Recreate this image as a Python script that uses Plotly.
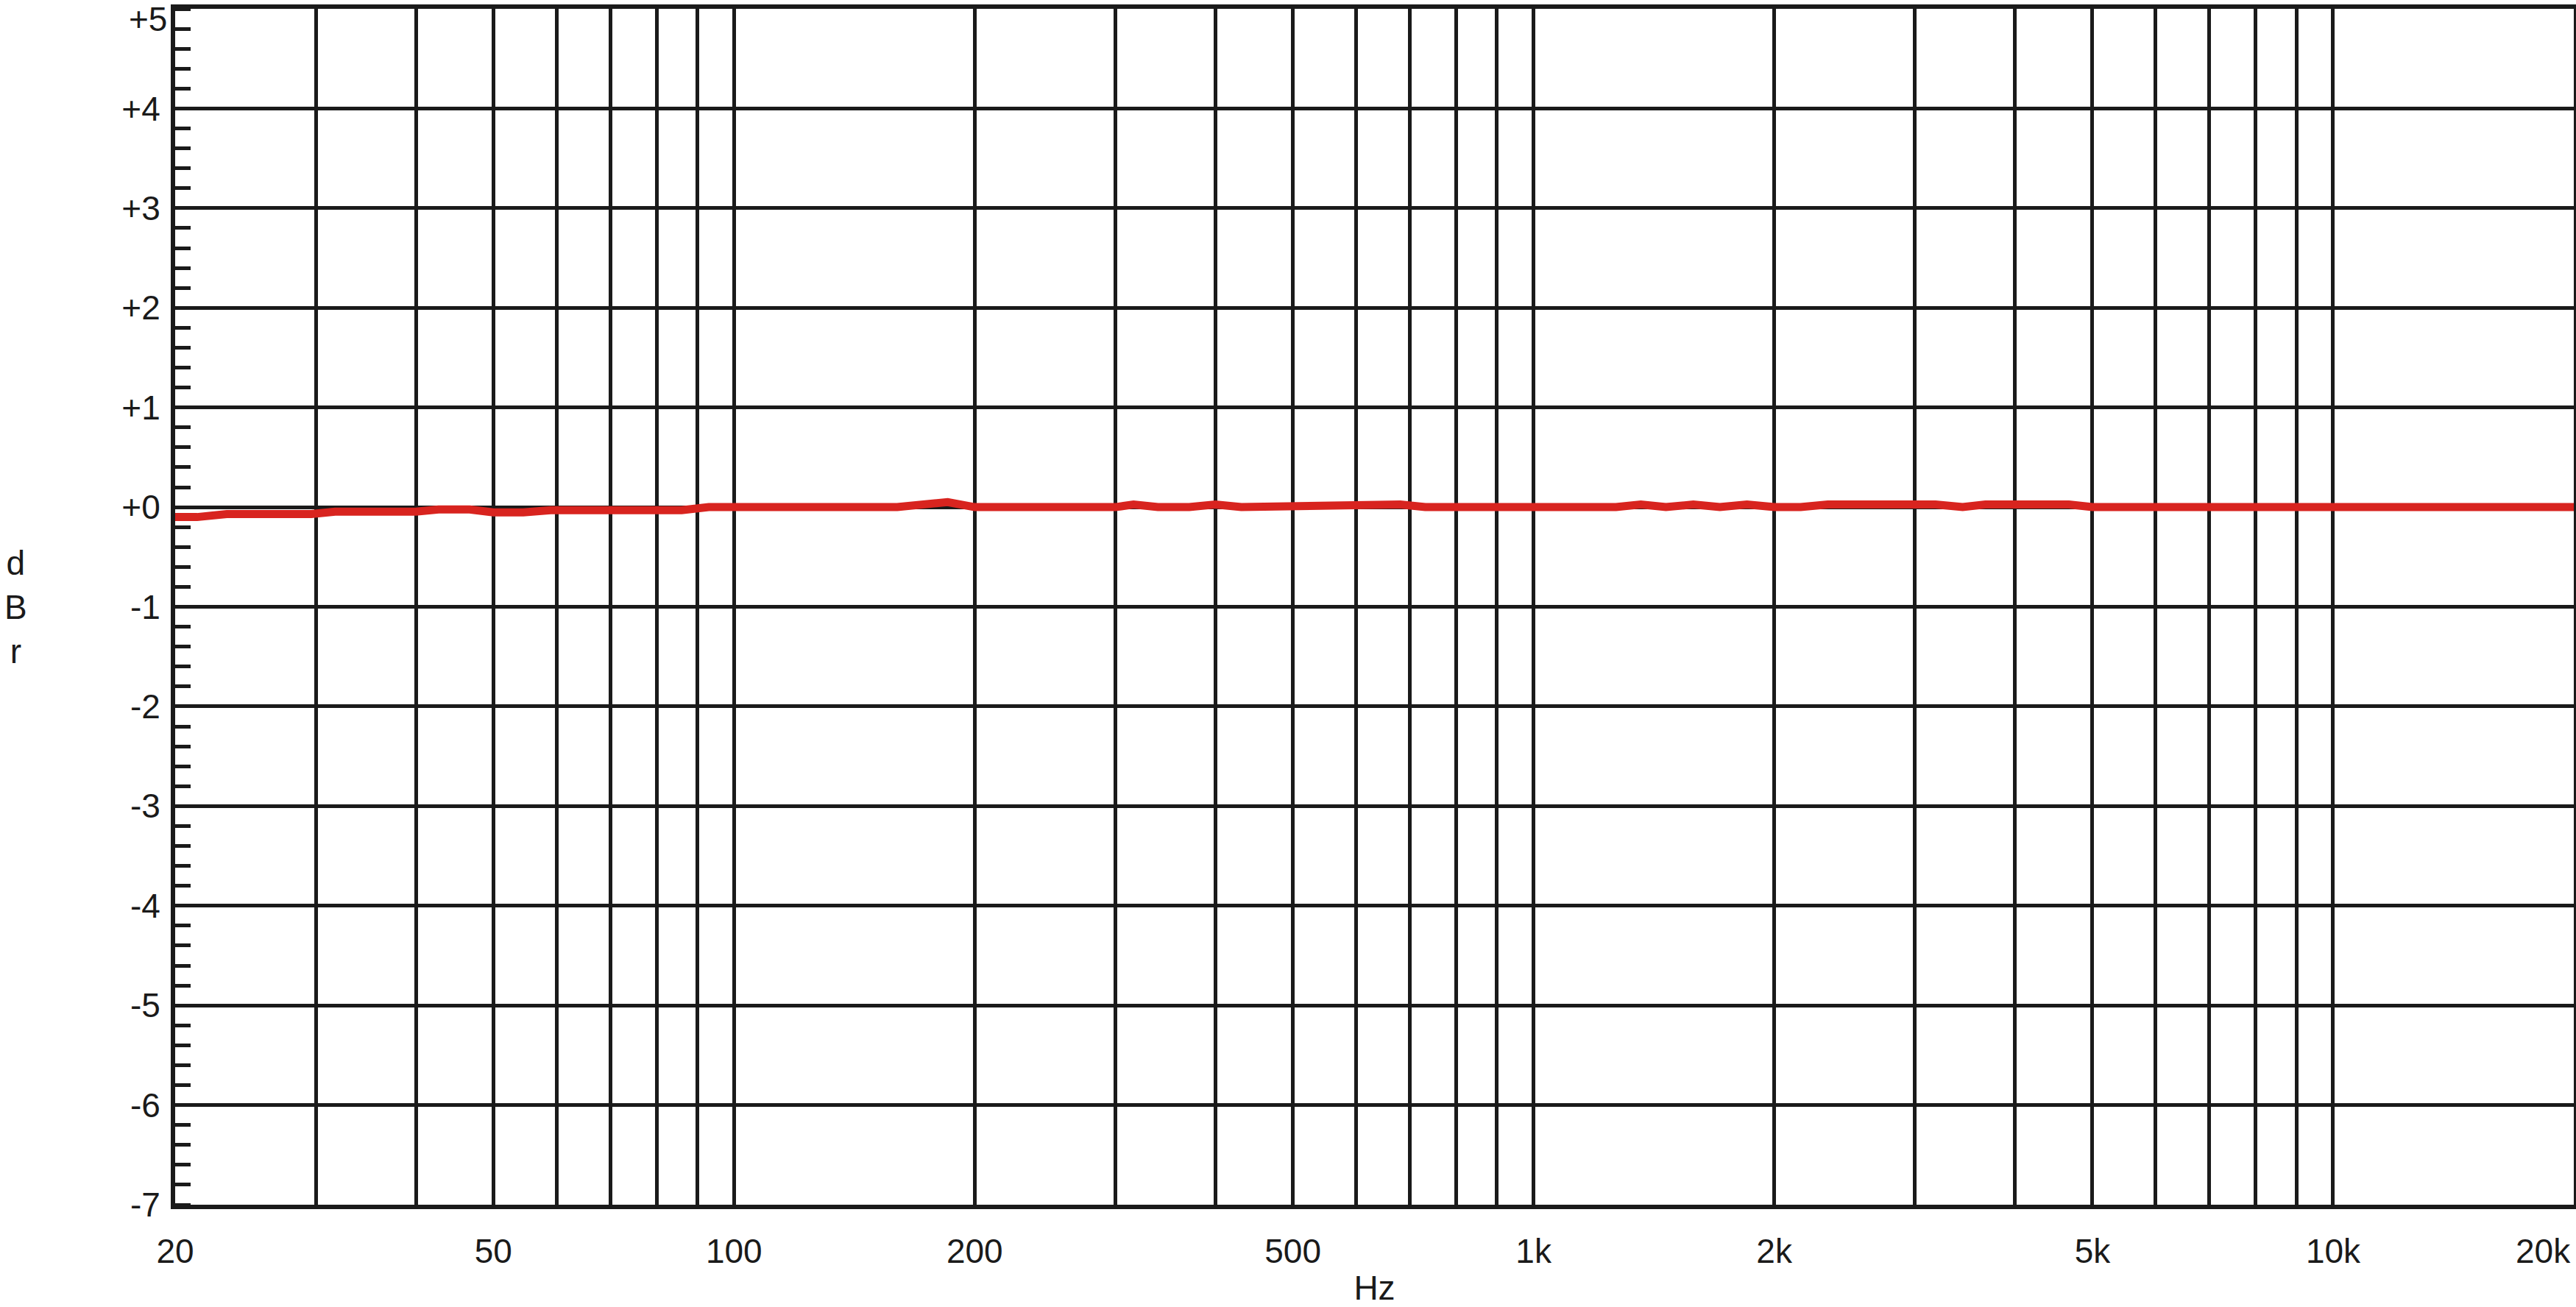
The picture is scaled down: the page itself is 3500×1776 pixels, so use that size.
import math
import plotly.graph_objects as go

# Frequency response data (Hz, dBr)
freq_hz = [20, 21.3, 23.2, 29.6, 31.7, 40, 42.7, 46.7, 50, 54.5, 59, 86, 93, 100,
           107, 117, 160, 185, 200, 300, 316, 339, 371, 400, 431, 681, 732, 1268,
           1362, 1464, 1584, 1710, 1849, 2000, 2158, 2334, 3182, 3441, 3674, 4672,
           5000, 20000]
level_dbr = [-0.10, -0.10, -0.07, -0.07, -0.045, -0.045, -0.023, -0.023, -0.053,
             -0.053, -0.03, -0.03, 0.0, 0.0, -0.02, 0.0, 0.0, 0.05, 0.0, 0.0, 0.026,
             0.0, 0.0, 0.026, 0.0, 0.026, 0.0, 0.0, 0.026, 0.0, 0.026, 0.0, 0.026,
             0.0, 0.0, 0.026, 0.026, 0.0, 0.026, 0.026, 0.0, 0.0]

x_tick_vals = [20, 50, 100, 200, 500, 1000, 2000, 5000, 10000, 20000]
x_tick_text = ["20", "50", "100", "200", "500", "1k", "2k", "5k", "10k", "20k"]
x_grid_vals = [30, 40, 60, 70, 80, 90, 300, 400, 600, 700, 800, 900,
               3000, 4000, 6000, 7000, 8000, 9000]
y_tick_vals = [5, 4, 3, 2, 1, 0, -1, -2, -3, -4, -5, -6, -7]
y_tick_text = ["+5", "+4", "+3", "+2", "+1", "+0", "-1", "-2", "-3", "-4", "-5", "-6", "-7"]

INK = "#1a1a1a"
FONT = "Liberation Sans, Arial, sans-serif"

# end labels that sit at the very edge of the figure are drawn as annotations
# so they can be nudged inside the page
x_axis_text = x_tick_text[:-1] + [""]
y_axis_text = [""] + y_tick_text[1:]

fig = go.Figure()
fig.add_trace(go.Scatter(
    x=freq_hz, y=level_dbr, mode="lines",
    line=dict(color="#d8241f", width=11),
    showlegend=False, hoverinfo="x+y",
))

fig.update_layout(
    width=3500, height=1776,
    margin=dict(l=238, r=3, t=12, b=139),
    paper_bgcolor="white", plot_bgcolor="white",
    font=dict(family=FONT, size=46, color=INK),
    xaxis=dict(
        type="log", range=[math.log10(x_tick_vals[0]), math.log10(x_tick_vals[-1])],
        tickmode="array", tickvals=x_tick_vals, ticktext=x_axis_text,
        ticks="", showgrid=True, gridcolor=INK, gridwidth=4.5,
        minor=dict(tickmode="array", tickvals=x_grid_vals, showgrid=True,
                   gridcolor=INK, gridwidth=4.5, ticks=""),
        showline=True, linecolor=INK, linewidth=6, mirror=True,
        zeroline=False, ticklabelstandoff=18, ticklabeloverflow="allow",
        tickfont=dict(size=46, color=INK),
        title=dict(text="Hz", font=dict(size=46, color=INK), standoff=22),
        automargin=False,
    ),
    yaxis=dict(
        range=[y_tick_vals[-1], y_tick_vals[0]],
        tickmode="array", tickvals=y_tick_vals, ticktext=y_axis_text,
        ticks="", showgrid=True, gridcolor=INK, gridwidth=4.5,
        minor=dict(dtick=0.2, tick0=0, ticks="inside", ticklen=21, tickwidth=4.5,
                   tickcolor=INK, showgrid=False),
        showline=True, linecolor=INK, linewidth=6, mirror=True,
        zeroline=False, ticklabelstandoff=5, ticklabeloverflow="allow",
        tickfont=dict(size=46, color=INK),
        automargin=False,
    ),
    annotations=[
        dict(text="d<br>B<br>r", xref="paper", yref="paper",
             x=-0.0665, y=0.5, xanchor="center", yanchor="middle",
             showarrow=False, font=dict(size=46, color=INK, family=FONT)),
        dict(text=y_tick_text[0], xref="paper", yref="y",
             x=0, y=y_tick_vals[0], xanchor="right", yanchor="top",
             xshift=-9, yshift=14, showarrow=False,
             font=dict(size=46, color=INK, family=FONT)),
        dict(text=x_tick_text[-1], xref="x", yref="paper",
             x=math.log10(x_tick_vals[-1]), y=0, xanchor="right", yanchor="top",
             xshift=-2, yshift=-35, showarrow=False,
             font=dict(size=46, color=INK, family=FONT)),
    ],
)

fig.write_html(
    "out.html",
    config={"displayModeBar": False},
    post_script="document.body.style.margin='0';document.body.style.overflow='hidden';",
)
